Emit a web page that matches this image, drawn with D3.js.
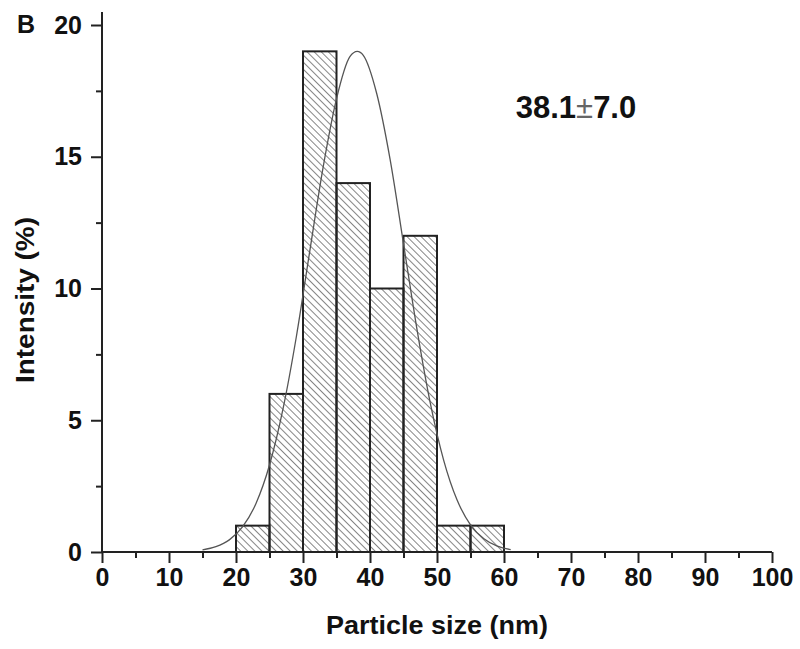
<!DOCTYPE html>
<html>
<head>
<meta charset="utf-8">
<script src="https://cdn.jsdelivr.net/npm/d3@7"></script>
<style>
  body { margin: 0; background: #fff; }
  text { font-family: "Liberation Sans", Arial, sans-serif; }
</style>
</head>
<body>
<div id="chart"></div>
<script>
// histogram bins (nm), lower edges, width 5
var binStart = [20, 25, 30, 35, 40, 45, 50, 55];
var binCount = [1, 6, 19, 14, 10, 12, 1, 1];
var binWidth = 5;

// fitted curve
var fitX = [15, 17, 19, 21, 23, 25, 27, 29, 31, 33, 35, 37, 38.1, 39, 41, 43, 45, 47, 49, 51, 53, 55, 57, 59, 61];
var fitY = [0.08, 0.2, 0.46, 0.96, 1.85, 3.3, 5.41, 8.16, 11.4, 14.6, 17.2, 18.8, 19, 18.85, 17.4, 14.9, 11.7, 8.47, 5.65, 3.48, 1.97, 1.03, 0.5, 0.22, 0.09];

var xTicks = [0, 10, 20, 30, 40, 50, 60, 70, 80, 90, 100];
var yTicks = [0, 5, 10, 15, 20];

var width = 800, height = 649;

var svg = d3.select("#chart").append("svg")
  .attr("width", width)
  .attr("height", height);

var defs = svg.append("defs");
var pat = defs.append("pattern")
  .attr("id", "hatch")
  .attr("patternUnits", "userSpaceOnUse")
  .attr("width", 5)
  .attr("height", 5)
  .attr("patternTransform", "rotate(-45)");
pat.append("line")
  .attr("x1", 0).attr("y1", 0).attr("x2", 0).attr("y2", 5)
  .attr("stroke", "#333")
  .attr("stroke-width", 1.2);

var x = d3.scaleLinear().domain([0, 100]).range([102, 772]);
var y = d3.scaleLinear().domain([0, 20]).range([552, 25]);

var g = svg.append("g");

// bars
g.selectAll("rect.bar")
  .data(binStart)
  .enter().append("rect")
  .attr("class", "bar")
  .attr("x", (d) => x(d))
  .attr("width", (d) => x(d + binWidth) - x(d))
  .attr("y", (d, i) => y(binCount[i]))
  .attr("height", (d, i) => y(0) - y(binCount[i]))
  .attr("fill", "url(#hatch)")
  .attr("stroke", "#222")
  .attr("stroke-width", 2);

// fit curve
var line = d3.line()
  .x((d) => x(d[0]))
  .y((d) => y(d[1]))
  .curve(d3.curveMonotoneX);

g.append("path")
  .datum(fitX.map((d, i) => [d, fitY[i]]))
  .attr("fill", "none")
  .attr("stroke", "#555")
  .attr("stroke-width", 1.3)
  .attr("d", line);

// axes
var xAxis = d3.axisBottom(x).tickValues(xTicks).tickSize(11).tickPadding(5);
var xMinor = d3.axisBottom(x).tickValues(d3.range(5, 100, 10)).tickSize(6).tickFormat("");
var yAxis = d3.axisLeft(y).tickValues(yTicks).tickSize(11).tickPadding(9);
var yMinor = d3.axisLeft(y).tickValues(d3.range(2.5, 20, 5)).tickSize(6).tickFormat("");

function styleAxis(sel) {
  sel.select(".domain").remove();
  sel.selectAll("line").attr("stroke", "#222").attr("stroke-width", 2);
  sel.selectAll("text")
    .attr("font-size", 25)
    .attr("font-weight", "bold")
    .attr("fill", "#111");
}

g.append("g").attr("transform", "translate(0," + y(0) + ")").call(xAxis).call(styleAxis);
g.append("g").attr("transform", "translate(0," + y(0) + ")").call(xMinor).call(styleAxis);
g.append("g").attr("transform", "translate(" + x(0) + ",0)").call(yAxis).call(styleAxis);
g.append("g").attr("transform", "translate(" + x(0) + ",0)").call(yMinor).call(styleAxis);

// axis lines
g.append("line")
  .attr("x1", x(0)).attr("x2", x(100))
  .attr("y1", y(0)).attr("y2", y(0))
  .attr("stroke", "#222").attr("stroke-width", 2);
g.append("line")
  .attr("x1", x(0)).attr("x2", x(0))
  .attr("y1", y(0)).attr("y2", 12)
  .attr("stroke", "#222").attr("stroke-width", 2);

// titles
svg.append("text")
  .attr("x", 437).attr("y", 634)
  .attr("text-anchor", "middle")
  .attr("font-size", 25).attr("font-weight", "bold").attr("fill", "#111")
  .attr("textLength", 222).attr("lengthAdjust", "spacingAndGlyphs")
  .text("Particle size (nm)");

svg.append("text")
  .attr("transform", "translate(34,300) rotate(-90)")
  .attr("text-anchor", "middle")
  .attr("font-size", 25).attr("font-weight", "bold").attr("fill", "#111")
  .attr("textLength", 166).attr("lengthAdjust", "spacingAndGlyphs")
  .text("Intensity (%)");

svg.append("text")
  .attr("x", 17).attr("y", 33)
  .attr("font-size", 25).attr("font-weight", "bold").attr("fill", "#111")
  .text("B");

var ann = svg.append("text")
  .attr("x", 576).attr("y", 118)
  .attr("text-anchor", "middle")
  .attr("font-size", 31).attr("font-weight", "bold").attr("fill", "#111");
ann.append("tspan").text("38.1");
ann.append("tspan").attr("font-weight", "normal").attr("fill", "#666").text("\u00B1");
ann.append("tspan").text("7.0");
</script>
</body>
</html>
